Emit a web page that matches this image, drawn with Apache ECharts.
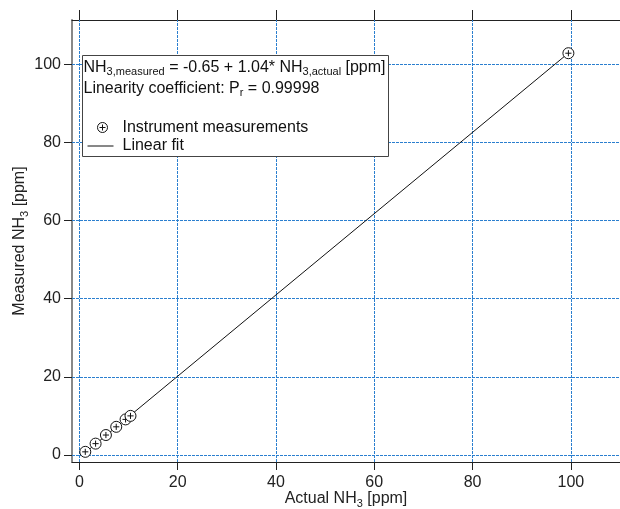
<!DOCTYPE html>
<html><head><meta charset="utf-8">
<script src="https://cdn.jsdelivr.net/npm/echarts@6/dist/echarts.min.js"></script>
<style>html,body{margin:0;padding:0;background:#fff}#c{width:620px;height:509px}</style>
</head><body><div id="c"></div>
<script>
// Data
const actualNH3 = [1.2, 3.3, 5.4, 7.5, 9.4, 10.4, 99.5];
const measuredNH3 = [0.8, 2.9, 5.1, 7.2, 9.1, 10.0, 102.8];
const fitX = [1.0, 99.5];
const fitY = [0.39, 102.83];
const xTicks = [0, 20, 40, 60, 80, 100];
const yTicks = [0, 20, 40, 60, 80, 100];
const xRange = [-1.5, 110];
const yRange = [-1.8, 111.3];

const FONT = '"Liberation Sans", Arial, Helvetica, sans-serif';
const GRID_BLUE = '#2b7fcf';
const symPath = 'path://M0,-5 A5,5 0 1,1 0,5 A5,5 0 1,1 0,-5 Z M-2.8,0 L2.8,0 M0,-2.8 L0,2.8';

const chart = echarts.init(document.getElementById('c'), null, {renderer: 'canvas'});
const subRich = {
  m: {fontSize: 16, fontFamily: FONT, color: '#222', lineHeight: 20},
  s: {fontSize: 11, fontFamily: FONT, color: '#222', lineHeight: 11, verticalAlign: 'bottom'}
};
const Z = 100;
const gridLines = xTicks.map(v => ({xAxis: v})).concat(yTicks.map(v => ({yAxis: v})));
chart.setOption({
  animation: false,
  backgroundColor: '#fff',
  grid: {left: 72, right: 0, top: 20, bottom: 47, outerBoundsMode: 'none', containLabel: false},
  xAxis: [{
    type: 'value', min: xRange[0], max: xRange[1], position: 'bottom',
    name: '{m|Actual NH}{s|3}{m| [ppm]}', nameLocation: 'middle', nameGap: 27, nameMoveOverlap: false,
    nameTextStyle: {rich: subRich},
    axisLine: {show: true, onZero: false, lineStyle: {color: '#222', width: 1}},
    axisTick: {show: true, inside: false, length: 8, customValues: xTicks, lineStyle: {color: '#222', width: 1}},
    axisLabel: {customValues: xTicks, fontSize: 16, fontFamily: FONT, color: '#222', margin: 13},
    splitLine: {show: false}
  }, {
    type: 'value', min: xRange[0], max: xRange[1], position: 'top',
    axisLine: {show: true, onZero: false, lineStyle: {color: '#222', width: 1}},
    axisTick: {show: true, inside: false, length: 10, customValues: xTicks, lineStyle: {color: '#222', width: 1}},
    axisLabel: {show: false},
    splitLine: {show: false}
  }],
  yAxis: [{
    type: 'value', min: yRange[0], max: yRange[1],
    name: '{m|Measured NH}{s|3}{m| [ppm]}', nameLocation: 'middle', nameGap: 42, nameRotate: 90, nameMoveOverlap: false,
    nameTextStyle: {rich: subRich},
    axisLine: {show: true, onZero: false, lineStyle: {color: '#888', width: 2}},
    axisTick: {show: true, inside: false, length: 8, customValues: yTicks, lineStyle: {color: '#222', width: 1}},
    axisLabel: {customValues: yTicks, fontSize: 16, fontFamily: FONT, color: '#222', margin: 11},
    splitLine: {show: false}
  }],
  series: [{
    name: 'Linear fit', type: 'line', data: fitX.map((x, i) => [x, fitY[i]]),
    showSymbol: false, lineStyle: {color: '#111', width: 1}, z: 3,
    markLine: {
      silent: true, symbol: ['none', 'none'], label: {show: false}, animation: false, z: 1,
      lineStyle: {color: GRID_BLUE, width: 1, type: [3, 1]},
      emphasis: {disabled: true},
      data: gridLines
    }
  }, {
    name: 'Instrument measurements', type: 'scatter',
    data: actualNH3.map((x, i) => [x, measuredNH3[i]]),
    symbol: symPath, symbolSize: 11,
    itemStyle: {color: '#fff', borderColor: '#111', borderWidth: 1, opacity: 1}, z: 4
  }],
  graphic: [{
    type: 'group', left: 82, top: 55, z: Z,
    children: [
      {type: 'rect', z: Z, shape: {x: 0, y: 0, width: 306, height: 101},
       style: {fill: '#fff', stroke: '#444', lineWidth: 1}},
      {type: 'text', z: Z + 1, x: 1, y: 2, style: {
        text: '{m|NH}{s|3,measured}{m| = -0.65 + 1.04* NH}{s|3,actual}{m| [ppm]}',
        rich: {m: {fontSize: 16, fontFamily: FONT, fill: '#111', lineHeight: 20},
               s: {fontSize: 11, fontFamily: FONT, fill: '#111', lineHeight: 11, verticalAlign: 'bottom'}}}},
      {type: 'text', z: Z + 1, x: 1, y: 23, style: {
        text: '{m|Linearity coefficient: P}{s|r}{m| = 0.99998}',
        rich: {m: {fontSize: 16, fontFamily: FONT, fill: '#111', lineHeight: 20},
               s: {fontSize: 11, fontFamily: FONT, fill: '#111', lineHeight: 11, verticalAlign: 'bottom'}}}},
      {type: 'circle', z: Z + 1, shape: {cx: 20, cy: 72, r: 5}, style: {fill: '#fff', stroke: '#111', lineWidth: 1}},
      {type: 'line', z: Z + 2, shape: {x1: 17, y1: 72, x2: 23, y2: 72}, style: {stroke: '#111', lineWidth: 1}},
      {type: 'line', z: Z + 2, shape: {x1: 20, y1: 69, x2: 20, y2: 75}, style: {stroke: '#111', lineWidth: 1}},
      {type: 'text', z: Z + 1, x: 40, y: 72, style: {text: 'Instrument measurements', fontSize: 16, fontFamily: FONT, fill: '#111', verticalAlign: 'middle'}},
      {type: 'line', z: Z + 1, shape: {x1: 5, y1: 90.5, x2: 31, y2: 90.5}, style: {stroke: '#111', lineWidth: 1}},
      {type: 'text', z: Z + 1, x: 40, y: 90, style: {text: 'Linear fit', fontSize: 16, fontFamily: FONT, fill: '#111', verticalAlign: 'middle'}}
    ]
  }]
});
</script></body></html>
